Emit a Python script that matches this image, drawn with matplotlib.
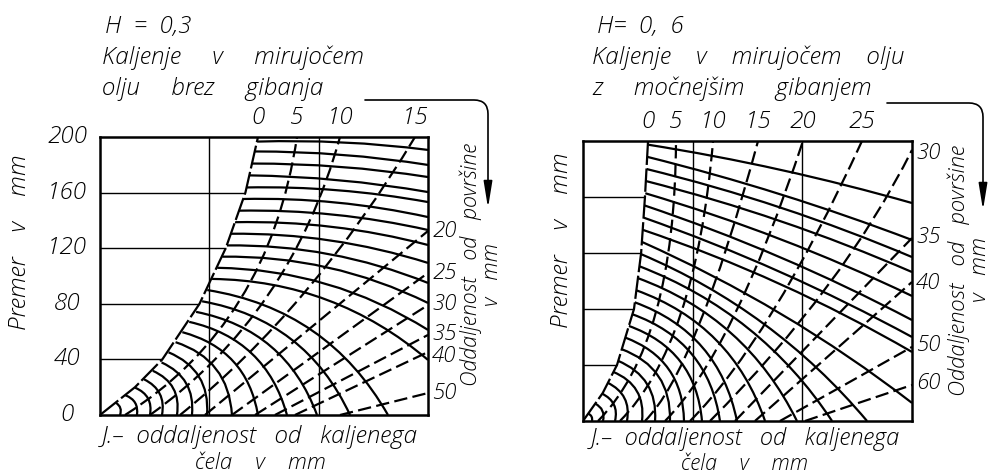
import numpy as np
import matplotlib
matplotlib.use('Agg')
import matplotlib.pyplot as plt
from matplotlib.path import Path
from matplotlib.patches import PathPatch, Polygon, FancyArrowPatch
from matplotlib.transforms import blended_transform_factory

plt.rcParams['font.family'] = ['Open Sans', 'DejaVu Sans']
plt.rcParams['font.weight'] = 'light'

# ── H = 0,3 : still oil, no agitation ────────────────────────────────
l_bound_y = [0, 20, 40, 80, 120, 160, 200]
l_bound_x = [0, 3.2, 5.7, 9.1, 11.5, 13.3, 14.45]

l_arc_x0 = [1.45, 2.33, 3.22, 4.02, 4.83, 5.63, 6.27, 6.91, 7.53, 8.16, 8.79,
            9.34, 9.81, 10.25, 10.72, 11.18, 11.61, 11.97, 12.34, 12.70,
            13.07, 13.38, 13.64, 13.88, 14.14, 14.40]
l_arc_y0 = [8.8, 14.2, 19.6, 25.7, 31.8, 37.8, 45.1, 52.4, 59.6, 67.0, 74.2,
            81.8, 89.9, 97.9, 105.9, 113.9, 122.0, 130.4, 138.7, 147.0,
            155.4, 163.7, 172.4, 180.9, 189.6, 196.7]
l_arc_x1 = [1.83, 3.38, 4.57, 5.67, 7.04, 8.41, 9.79, 12.07, 14.45, 17.10,
            19.85, 22.87, 26.34] + [30] * 13
l_arc_y1 = [0] * 13 + [39.6, 61.2, 80.6, 95.0, 109.4, 122.3, 133.1, 142.4,
                       153.2, 160.4, 171.2, 179.9, 190.7]
l_arc_bulge = [0.20, 0.20, 0.20, 0.19, 0.19, 0.18, 0.18, 0.17, 0.16, 0.15,
               0.14, 0.13, 0.12, 0.09, 0.07, 0.06, 0.05, 0.04, 0.035, 0.03,
               0.03, 0.025, 0.02, 0.02, 0.02, 0.02]

# depth lines (mm below surface): start on the bottom edge, pass a mid point
l_dash_x0 = [2.29, 4.57, 7.32, 9.60, 12.07, 14.18, 16.00, 17.83, 21.95]
l_dash_y0 = [0] * 9
l_dash_xm = [12.80, 15.37, 18.75, 19.80, 21.04, 22.09, 23.01, 23.92, 25.97]
l_dash_ym = [82.7, 86.3, 88.5, 66.2, 51.1, 39.6, 28.8, 22.7, 7.9]
l_dash_x1 = [18.02, 21.95, 28.81, 30, 30, 30, 30, 30, 30]
l_dash_y1 = [200, 200, 200, 132.4, 102.2, 79.1, 57.6, 45.3, 15.8]

l_top_lbl = ['0', '5', '10', '15']
l_top_x = [14.45, 18.02, 21.95, 28.81]
l_side_lbl = ['20', '25', '30', '35', '40', '50']
l_side_y = [132.4, 102.2, 79.9, 58.3, 42.4, 15.8]

# ── H = 0,6 : still oil, stronger agitation ──────────────────────────
r_bound_y = [0, 20, 40, 80, 120, 160, 200]
r_bound_x = [0, 1.8, 3.1, 4.65, 5.3, 5.65, 5.93]

r_arc_x0 = [0.47, 1.09, 1.72, 2.23, 2.72, 3.16, 3.49, 3.82, 4.15, 4.48, 4.71,
            4.85, 4.99, 5.12, 5.26, 5.35, 5.43, 5.52, 5.60, 5.67, 5.74, 5.79,
            5.85, 5.91]
r_arc_y0 = [5.3, 12.5, 19.6, 27.4, 35.2, 43.1, 51.4, 59.7, 68.0, 76.3, 84.8,
            93.4, 102.1, 110.6, 119.3, 128.0, 136.6, 145.3, 154.0, 162.7,
            171.4, 180.0, 188.7, 197.4]
r_arc_x1 = [0.82, 1.82, 2.92, 4.01, 5.38, 6.57, 7.93, 9.21, 10.85, 12.49,
            14.04, 16.60, 19.51, 22.71, 25.90] + [30] * 9
r_arc_y1 = [0] * 15 + [12.9, 49.3, 60.0, 72.1, 89.3, 106.4, 117.1, 129.3,
                       155.7]
r_arc_bulge = [0.20, 0.20, 0.20, 0.19, 0.19, 0.18, 0.18, 0.17, 0.16, 0.15,
               0.14, 0.12, 0.10, 0.08, 0.06, 0.03, 0.025, 0.02, 0.02, 0.02,
               0.02, 0.02, 0.015, 0.015]

r_dash_x0 = [1.37, 3.37, 5.65, 7.48, 9.76, 11.58, 13.86, 15.68, 17.96, 20.24]
r_dash_y0 = [0] * 10
r_dash_xm = [6.66, 8.94, 10.56, 13.72, 17.33, 22.25, 21.93, 22.84, 23.98, 25.12]
r_dash_ym = [77.9, 77.1, 68.2, 74.3, 78.6, 95.9, 65.4, 49.6, 26.4, 12.9]
r_dash_x1 = [8.48, 11.86, 15.96, 20.06, 25.44, 30, 30, 30, 30, 30]
r_dash_y1 = [200, 200, 200, 200, 200, 193.6, 130.7, 99.3, 52.9, 25.7]

r_top_lbl = ['0', '5', '10', '15', '20', '25']
r_top_x = [5.93, 8.48, 11.86, 15.96, 20.06, 25.44]
r_side_lbl = ['30', '35', '40', '50', '60']
r_side_y = [191.4, 131.4, 98.6, 54.3, 27.1]

diam_ticks = [0, 40, 80, 120, 160, 200]
jominy_grid = [10, 20]

FS = 17.5
W, H = 991, 476
fig = plt.figure(figsize=(W / 100, H / 100), dpi=100)


def px_rect(x0, y0, x1, y1):
    return [x0 / W, 1 - y1 / H, (x1 - x0) / W, (y1 - y0) / H]


def add_curve(ax, p0, ctrl, p1, region, **kw):
    path = Path([p0, ctrl, p1], [Path.MOVETO, Path.CURVE3, Path.CURVE3])
    patch = PathPatch(path, fill=False, edgecolor='black', capstyle='butt', **kw)
    ax.add_patch(patch)
    patch.set_clip_path(region)


def bowed(ax, p0, p1, bulge):
    # control point pushed sideways from the chord, measured on screen
    tr = ax.transData
    a, b = tr.transform(p0), tr.transform(p1)
    d = b - a
    c = (a + b) / 2 + 2 * bulge * np.array([-d[1], d[0]])
    return tr.inverted().transform(c)


def panel(ax, bx, by, arcs, dashes, top, side, yticks):
    ax.set_xlim(0, 30)
    ax.set_ylim(0, 200)
    ax.set_xticks([])
    ax.set_yticks([])
    for s in ax.spines.values():
        s.set_linewidth(1.8)

    region = Polygon(np.column_stack([list(bx) + [30, 30], list(by) + [200, 0]]),
                     closed=True, transform=ax.transData)

    for x0, y0, x1, y1, bu in zip(*arcs):
        add_curve(ax, (x0, y0), bowed(ax, (x0, y0), (x1, y1), bu), (x1, y1),
                  region, lw=1.6)
    for x0, y0, xm, ym, x1, y1 in zip(*dashes):
        ctrl = (2 * xm - (x0 + x1) / 2, 2 * ym - (y0 + y1) / 2)
        add_curve(ax, (x0, y0), ctrl, (x1, y1), region, lw=1.6,
                  linestyle=(0, (6.0, 2.4)))

    # surface curve (0 mm)
    ax.plot(bx, by, color='black', lw=1.6, dashes=(10.5, 1.6))

    # reference grid left of the surface curve
    hy = [40, 80, 120, 160]
    ax.hlines(hy, 0, [bx[by.index(v)] for v in hy], color='black', lw=1.0)
    ax.vlines(jominy_grid, 0, 200, color='black', lw=1.0)

    for lbl, x in zip(*top):
        ax.annotate(lbl, (x, 200), xytext=(0, 13.5), textcoords='offset points',
                    ha='center', va='center', fontsize=FS, style='italic')
    for lbl, y in zip(*side):
        ax.annotate(lbl, (30, y), xytext=(3.0, 0), textcoords='offset points',
                    ha='left', va='center', fontsize=16, style='italic')

    if yticks:
        tr = blended_transform_factory(ax.transAxes, ax.transData)
        for v in diam_ticks:
            ax.text(-0.10, v, str(v), transform=tr, ha='center', va='center',
                    fontsize=FS, style='italic')


ax_l = fig.add_axes(px_rect(100, 137, 428, 415))
ax_r = fig.add_axes(px_rect(583, 141, 912, 421))

panel(ax_l, l_bound_x, l_bound_y,
      (l_arc_x0, l_arc_y0, l_arc_x1, l_arc_y1, l_arc_bulge),
      (l_dash_x0, l_dash_y0, l_dash_xm, l_dash_ym, l_dash_x1, l_dash_y1),
      (l_top_lbl, l_top_x), (l_side_lbl, l_side_y), True)
panel(ax_r, r_bound_x, r_bound_y,
      (r_arc_x0, r_arc_y0, r_arc_x1, r_arc_y1, r_arc_bulge),
      (r_dash_x0, r_dash_y0, r_dash_xm, r_dash_ym, r_dash_x1, r_dash_y1),
      (r_top_lbl, r_top_x), (r_side_lbl, r_side_y), False)


def ftext(x, y, s, **kw):
    kw.setdefault('fontsize', FS)
    kw.setdefault('style', 'italic')
    fig.text(x / W, 1 - y / H, s, **kw)


# headings
ftext(105, 33, 'H  =  0,3', va='baseline')
ftext(102, 64, 'Kaljenje     v     mirujočem', va='baseline')
ftext(102, 95, 'olju     brez     gibanja', va='baseline')
ftext(597, 33, 'H=  0,  6', va='baseline')
ftext(592, 64, 'Kaljenje    v    mirujočem    olju', va='baseline')
ftext(592, 95, 'z     močnejšim     gibanjem', va='baseline')

# axis titles
ftext(20, 242, 'Premer    v    mm', rotation=90, ha='center', va='center')
ftext(562, 240, 'Premer    v    mm', rotation=90, ha='center', va='center')
ftext(260, 443, 'J.–  oddaljenost   od   kaljenega', ha='center', va='baseline')
ftext(260, 469, 'čela    v    mm', ha='center', va='baseline', fontsize=16)
ftext(745, 445, 'J.–  oddaljenost   od   kaljenega', ha='center', va='baseline',
      fontsize=17)
ftext(745, 470, 'čela    v    mm', ha='center', va='baseline', fontsize=15.5)
ftext(471, 264, 'Oddaljenost   od   površine', rotation=90, ha='center',
      va='center', fontsize=15.5)
ftext(492, 275, 'v   mm', rotation=90, ha='center', va='center', fontsize=15.5)
ftext(959, 270, 'Oddaljenost   od   površine', rotation=90, ha='center',
      va='center', fontsize=16)
ftext(980, 270, 'v   mm', rotation=90, ha='center', va='center', fontsize=16)


def bent_arrow(x0, y0, xc, y1):
    verts = [(x0, y0), (xc - 14, y0), (xc, y0), (xc, y0 + 14), (xc, y1)]
    verts = [(x / W, 1 - y / H) for x, y in verts]
    codes = [Path.MOVETO, Path.LINETO, Path.CURVE3, Path.CURVE3, Path.LINETO]
    arr = FancyArrowPatch(path=Path(verts, codes), transform=fig.transFigure,
                          arrowstyle='-|>,head_length=16,head_width=2.6',
                          mutation_scale=1, lw=1.2, color='black')
    fig.add_artist(arr)


bent_arrow(365, 100, 488, 208)
bent_arrow(887, 103, 983, 210)

fig.savefig('out.png', dpi=100)
